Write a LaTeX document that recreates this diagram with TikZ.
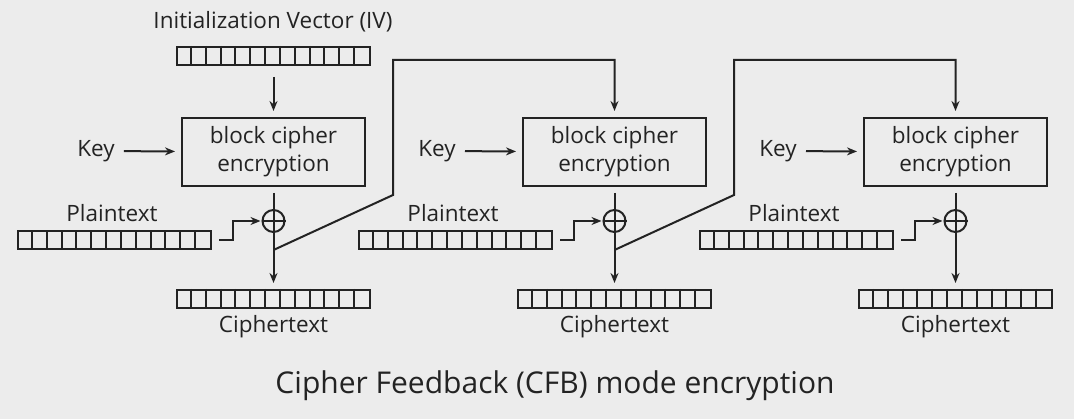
\documentclass[tikz,border=0pt]{standalone}
\usepackage{fontspec}
\setmainfont{Open Sans}
\usetikzlibrary{arrows.meta}
\definecolor{bgcol}{RGB}{236,236,236}
\definecolor{ink}{RGB}{35,35,35}
\tikzset{
  reg/.style={draw,minimum width=193pt,minimum height=18pt,inner sep=0pt},
  cipherbox/.style={draw,minimum width=183pt,minimum height=68pt,inner sep=0pt,align=center,font=\fontsize{22.5}{28}\selectfont},
  lbl/.style={font=\fontsize{22.5}{26}\selectfont},
  xorop/.style={draw,circle,minimum size=22pt,inner sep=0pt},
  >={Stealth[length=10pt,width=8pt]}
}
\newcommand{\cells}[1]{\foreach \k in {1,...,12}
  \draw ([xshift={\k*14.846pt}]#1.north west) -- ([xshift={\k*14.846pt}]#1.south west);}

\begin{document}
\begin{tikzpicture}[x=1pt,y=-1pt,line width=2pt,draw=ink,text=ink]
  \fill[bgcol] (0,0) rectangle (1074,419);
  \useasboundingbox (0,0) rectangle (1074,419);

  \node[lbl] (ivlabel) at (273,22) {Initialization Vector (IV)};
  \node[reg] (iv) at (273.5,56) {};
  \cells{iv}

  \foreach \i in {0,1,2}{
    \pgfmathsetmacro{\dx}{341*\i}
    \node[cipherbox] (blk\i) at (273.5+\dx,152) {block cipher\\encryption};
    \node[lbl] (key\i) at (96+\dx,151) {Key};
    \draw[->,shorten <=5pt,shorten >=6pt] (key\i) -- (blk\i);

    \node[xorop] (xor\i) at (273.5+\dx,221) {};
    \draw (xor\i.north) -- (xor\i.south) (xor\i.west) -- (xor\i.east);
    \draw[shorten <=6pt] (blk\i.south) -- (xor\i.north);

    \node[lbl] (ptlabel\i) at (112+\dx,213) {Plaintext};
    \node[reg] (pt\i) at (114.5+\dx,240.5) {};
    \cells{pt\i}
    \draw[->,shorten >=1pt] ([xshift=7pt]pt\i.east) -- ++(14,0) |- (xor\i.west);

    \node[reg] (ct\i) at (273.5+\dx,299) {};
    \cells{ct\i}
    \node[lbl] (ctlabel\i) at (273.5+\dx,327) {Ciphertext};
    \draw[->,shorten >=6pt] (xor\i.south) -- (ct\i.north);
  }

  \draw[->,shorten <=11pt,shorten >=6pt] (iv) -- (blk0);

  % feedback of the ciphertext into the next block
  \foreach \i/\j in {0/1,1/2}{
    \pgfmathsetmacro{\dx}{341*\i}
    \coordinate (tap\i) at (273.5+\dx,250);
    \coordinate (bend\i) at (393+\dx,195);
    \coordinate (top\i) at (393+\dx,60);
    \draw[->,shorten >=6pt] (tap\i) -- (bend\i) -- (top\i) -| (blk\j.north);
  }

  \node[font=\fontsize{30}{34}\selectfont,text=ink] (title) at (555,386) {Cipher Feedback (CFB) mode encryption};
\end{tikzpicture}
\end{document}
